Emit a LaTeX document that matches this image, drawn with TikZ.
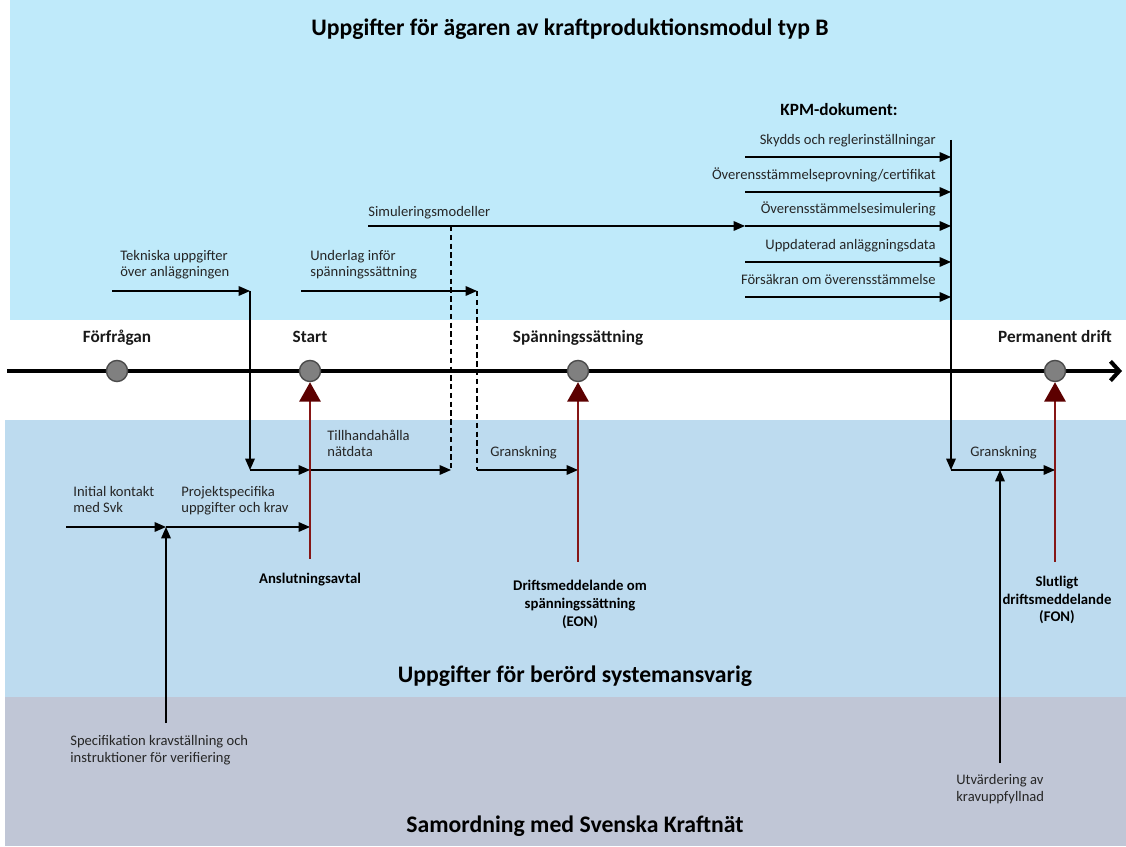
\documentclass[tikz,border=0pt]{standalone}
\usepackage{fontspec}
\setmainfont{Carlito}
\usetikzlibrary{arrows.meta}

\definecolor{ownerband}{HTML}{BFEAFA}
\definecolor{tsoband}{HTML}{BDDBEF}
\definecolor{svkband}{HTML}{C0C6D6}
\definecolor{milestonegray}{HTML}{808080}
\definecolor{decisionred}{HTML}{861616}
\definecolor{decisionhead}{HTML}{5C0000}

\begin{document}
\begin{tikzpicture}
  [x=0.02cm,y=-0.02cm,every node/.style={inner sep=0pt,text=black!85},
   txt/.style={font=\fontsize{8.3}{9.4}\selectfont,align=left},
   kpmtxt/.style={txt,anchor=base east},
   bandtitle/.style={font=\fontsize{13.5}{15}\selectfont\bfseries,text=black,anchor=base},
   ptlabel/.style={font=\fontsize{9.8}{11}\selectfont\bfseries,text=black!90,anchor=base},
   decisiontxt/.style={font=\fontsize{8.4}{10}\selectfont\bfseries,text=black,align=center,anchor=base},
   milestone/.style={circle,fill=milestonegray,draw=black!70,line width=0.8pt,minimum size=12pt},
   timeline/.style={line width=2.3pt,-{Straight Barb[length=5pt,width=11pt]}},
   flow/.style={line width=0.7pt,-{Triangle[length=6.5pt,width=5.5pt]}},
   dflow/.style={line width=0.7pt,dash pattern=on 3pt off 2pt},
   decision/.style={draw=decisionred,line width=1.4pt,-{Triangle[length=11pt,width=12pt,color=decisionhead]}}]

  % bands
  \fill[ownerband] (10,0) rectangle (1126,320);
  \fill[tsoband] (5,420) rectangle (1126,697);
  \fill[svkband] (5,697) rectangle (1126,846);
  \useasboundingbox (0,0) rectangle (1126,847);

  \node[bandtitle] (ownertitle) at (570,36) {Uppgifter för ägaren av kraftproduktionsmodul typ B};
  \node[bandtitle] (tsotitle) at (575,683) {Uppgifter för berörd systemansvarig};
  \node[bandtitle] (svktitle) at (575,832) {Samordning med Svenska Kraftnät};

  % timeline
  \coordinate (t0) at (7,371);
  \coordinate (t1) at (1122,371);
  \draw[timeline] (t0) -- (t1);
  \foreach \name/\x/\mlabel in
  {forf/117/Förfrågan, start/310/Start, spann/578/Spänningssättning, perm/1055/Permanent drift}
  {
    \node[milestone] (\name) at (\x,371) {};
    \node[ptlabel] (\name-lbl) at (\x,343) {\mlabel};
  }

  % owner tasks
  \coordinate (tek-a) at (112,291);
  \coordinate (tek-b) at (250,291);
  \coordinate (tek-c) at (250,470);
  \coordinate (sim-a) at (368,226);
  \coordinate (sim-b) at (451,226);
  \coordinate (sim-c) at (451,470);
  \coordinate (und-a) at (301,291);
  \coordinate (und-b) at (477,291);
  \coordinate (und-c) at (477,470);
  \coordinate (kpm-top) at (951,140);
  \coordinate (kpm-bot) at (951,470);

  \node[txt,anchor=base west] (tek) at (120,277) {Tekniska uppgifter\\över anläggningen};
  \node[txt,anchor=base west] (und) at (310,277) {Underlag inför\\spänningssättning};
  \node[txt,anchor=base west] (sim) at (368,217) {Simuleringsmodeller};
  \node[txt,anchor=base west] (til) at (327,457) {Tillhandahålla\\nätdata};
  \node[txt,anchor=base west] (gr1) at (490,457) {Granskning};
  \node[txt,anchor=base west] (gr2) at (970,457) {Granskning};

  \draw[flow] (tek-a) -- (tek-b);
  \draw[flow] (tek-b) -- (tek-c);
  \draw[flow] (tek-c) -- (start |- tek-c);
  \draw[flow] (start |- tek-c) -- (sim-c);
  \draw[dflow] (sim-b) -- (sim-c);
  \draw[flow] (und-a) -- (und-b);
  \draw[dflow] (und-b) -- (und-c);
  \draw[flow] (und-c) -- (spann.center |- und-c);

  % KPM documents
  \node[ptlabel,text=black] (kpm) at (839,116) {KPM-dokument:};
  \foreach \i/\y/\doc in
  {1/157/{Skydds och reglerinställningar}, 2/192/{Överensstämmelseprovning/certifikat},
   3/226/{Överensstämmelsesimulering}, 4/262/{Uppdaterad anläggningsdata},
   5/297/{Försäkran om överensstämmelse}}
  {
    \coordinate (kpm\i-a) at (745,\y);
    \coordinate (kpm\i-b) at (951,\y);
    \node[kpmtxt] (kpm\i) at (936,\y-12) {\doc};
    \draw[flow] (kpm\i-a) -- (kpm\i-b);
  }
  \draw[flow] (sim-a) -- (kpm3-a);
  \draw[line width=0.7pt] (kpm-top) -- (kpm1-b);
  \draw[flow] (kpm1-b) -- (kpm-bot);
  \draw[flow] (kpm-bot) -- (perm |- kpm-bot);

  % system operator tasks
  \coordinate (ini-a) at (66,527);
  \coordinate (ini-b) at (166,527);
  \coordinate (spec-a) at (166,723);
  \coordinate (utv-a) at (1000,763);
  \coordinate (utv-b) at (1000,470);

  \node[txt,anchor=base west] (ini) at (73,513) {Initial kontakt\\med Svk};
  \node[txt,anchor=base west] (proj) at (181,513) {Projektspecifika\\uppgifter och krav};
  \node[txt,anchor=base west] (spec) at (70,762) {Specifikation kravställning och\\instruktioner för verifiering};
  \node[txt,anchor=base west] (utv) at (956,801) {Utvärdering av\\kravuppfyllnad};

  \draw[flow] (ini-a) -- (ini-b);
  \draw[flow] (ini-b) -- (start |- ini-b);
  \draw[flow] (spec-a) -- (ini-b);
  \draw[flow] (utv-a) -- (utv-b);

  % decisions
  \coordinate (avt-a) at (310,559);
  \coordinate (eon-a) at (578,562);
  \coordinate (fon-a) at (1055,562);
  \draw[decision] (avt-a) -- (start);
  \draw[decision] (eon-a) -- (spann);
  \draw[decision] (fon-a) -- (perm);
  \node[decisiontxt] (avt) at (310,583) {Anslutningsavtal};
  \node[decisiontxt] (eon) at (580,626) {Driftsmeddelande om\\spänningssättning\\(EON)};
  \node[decisiontxt] (fon) at (1057,622) {Slutligt\\driftsmeddelande\\(FON)};
\end{tikzpicture}
\end{document}
